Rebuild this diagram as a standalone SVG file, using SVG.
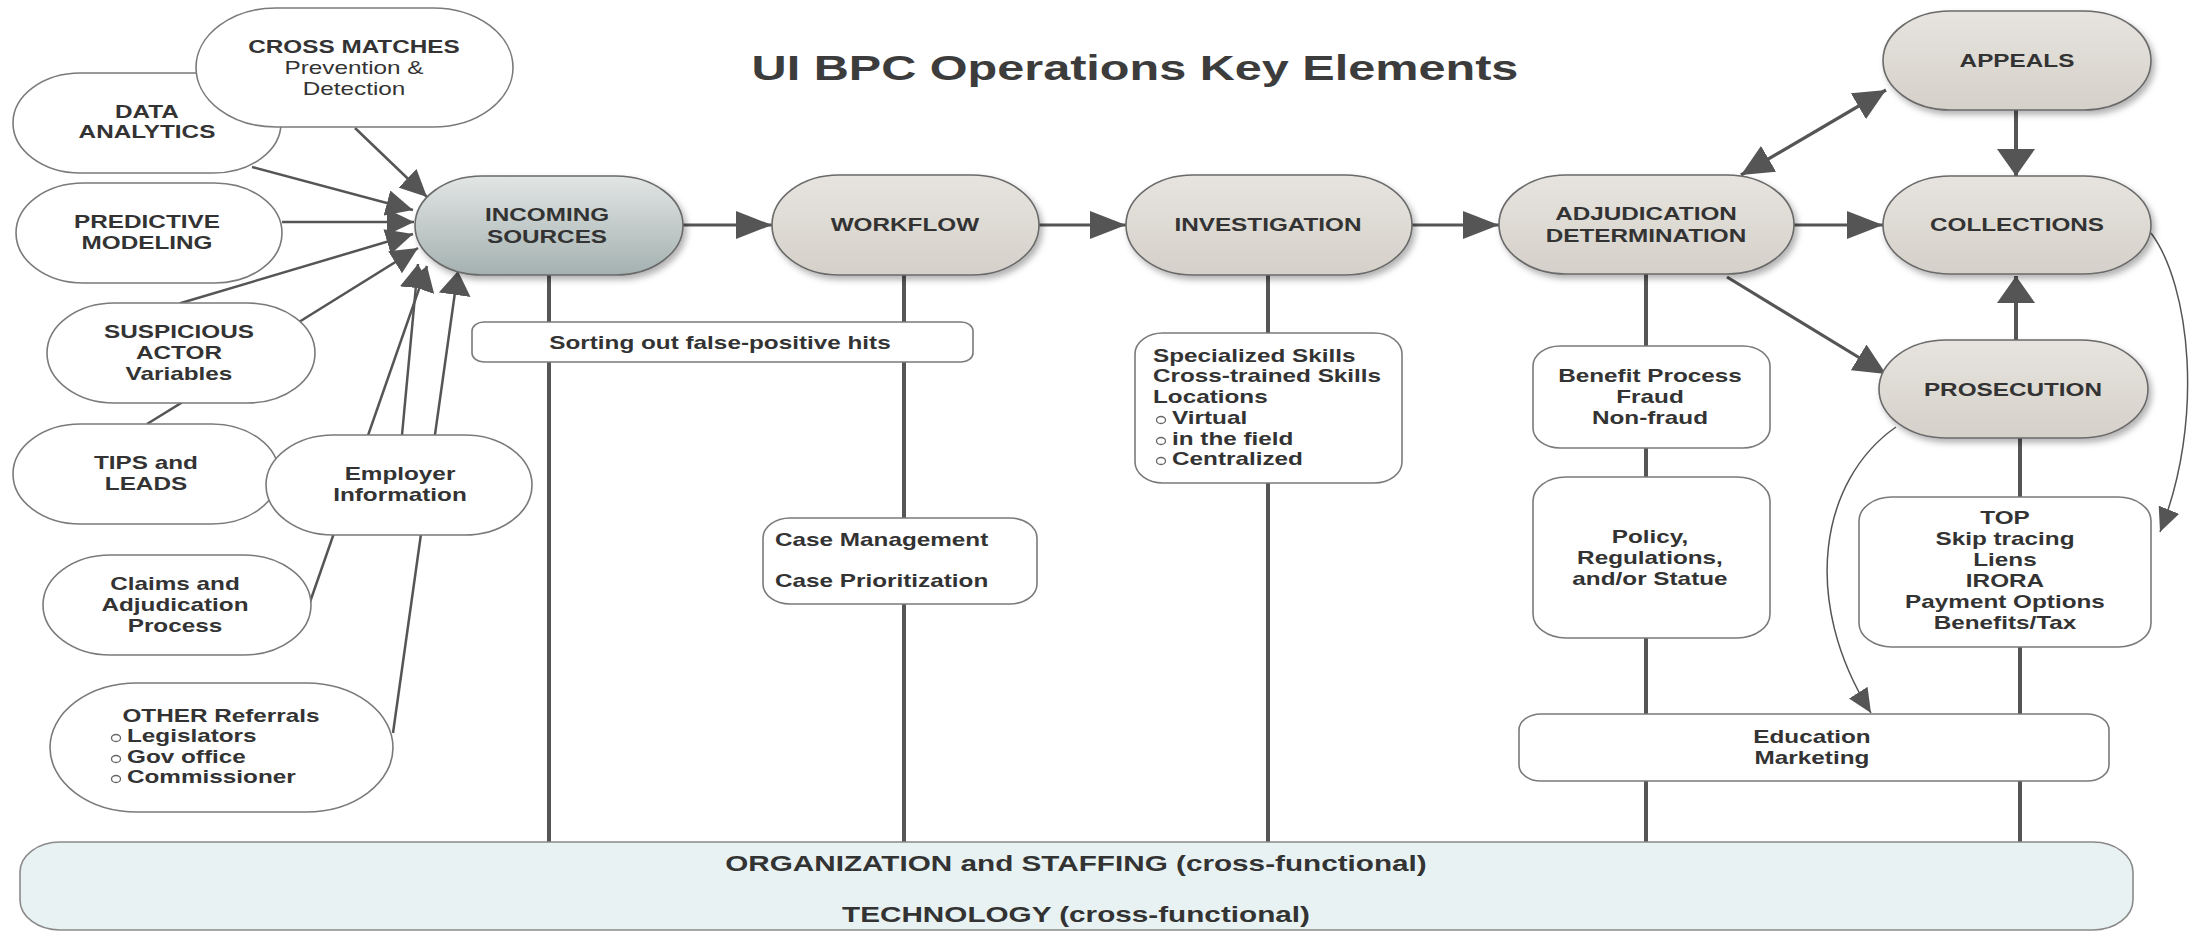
<svg xmlns="http://www.w3.org/2000/svg" width="2196" height="932" viewBox="0 0 2196 932">
<defs>
<style>
text{font-family:"Liberation Sans",Arial,sans-serif;fill:#333;font-size:18px;font-weight:bold;text-anchor:middle;transform-box:fill-box;transform-origin:center;transform:scaleX(1.35)}
text.l{text-anchor:start;transform-origin:0% 50%}
text.r{font-weight:normal}
text.title{font-size:36px;fill:#3c3c3c}
text.band{font-size:22px}
.bub{fill:#fff;stroke:#7a7a7a;stroke-width:1.6}
.box{fill:#fff;stroke:#7a7a7a;stroke-width:1.6}
.main{fill:url(#gMain);stroke:#6a6a6a;stroke-width:1.6;filter:url(#sh)}
.inc{fill:url(#gInc);stroke:#6a6a6a;stroke-width:1.6;filter:url(#sh)}
.bandr{fill:#e8f2f2;stroke:#8a8a8a;stroke-width:1.6}
.ln{fill:none;stroke:#555;stroke-width:3.2}
.vl{stroke-width:4}
.lc{stroke-width:2.5}
.th{stroke-width:1.5}
.bul{fill:none;stroke:#666;stroke-width:1.3}
.ah{fill:#555}
</style>
<linearGradient id="gMain" x1="0" y1="0" x2="0" y2="1"><stop offset="0" stop-color="#e7e4df"/><stop offset="1" stop-color="#d5d0c9"/></linearGradient>
<linearGradient id="gInc" x1="0" y1="0" x2="0" y2="1"><stop offset="0" stop-color="#e2e6e5"/><stop offset="1" stop-color="#a4b1b0"/></linearGradient>
<filter id="sh" x="-10%" y="-10%" width="130%" height="140%"><feDropShadow dx="3" dy="4" stdDeviation="3" flood-color="#000" flood-opacity="0.3"/></filter>
<marker id="mH" markerUnits="userSpaceOnUse" markerWidth="36" markerHeight="28" refX="36" refY="14" orient="auto"><path class="ah" d="M0,0 L36,14 L0,28 Z"/></marker>
<marker id="mV" markerUnits="userSpaceOnUse" markerWidth="27" markerHeight="38" refX="27" refY="19" orient="auto"><path class="ah" d="M0,0 L27,19 L0,38 Z"/></marker>
<marker id="mD" markerUnits="userSpaceOnUse" markerWidth="32" markerHeight="30" refX="32" refY="15" orient="auto-start-reverse"><path class="ah" d="M0,0 L32,15 L0,30 Z"/></marker>
<marker id="mL" markerUnits="userSpaceOnUse" markerWidth="27" markerHeight="26" refX="27" refY="13" orient="auto"><path class="ah" d="M0,0 L27,13 L0,26 Z"/></marker>
<marker id="mU" markerUnits="userSpaceOnUse" markerWidth="24" markerHeight="32" refX="24" refY="16" orient="auto"><path class="ah" d="M0,0 L24,16 L0,32 Z"/></marker>
<marker id="mT" markerUnits="userSpaceOnUse" markerWidth="24" markerHeight="22" refX="24" refY="11" orient="auto"><path class="ah" d="M0,0 L24,11 L0,22 Z"/></marker>
</defs>
<rect x="0" y="0" width="2196" height="932" fill="#fff"/>

<text class="title" x="1135" y="80">UI BPC Operations Key Elements</text>

<g id="connectors">
<path class="ln vl" d="M549,275 V842"/>
<path class="ln vl" d="M904,275 V842"/>
<path class="ln vl" d="M1268,275 V842"/>
<path class="ln vl" d="M1646,274 V842"/>
<path class="ln vl" d="M2020,438 V842"/>
<path class="ln lc" d="M355,128 L427,197" marker-end="url(#mL)"/>
<path class="ln lc" d="M252,167 L413,210" marker-end="url(#mL)"/>
<path class="ln lc" d="M282,222 L414,222" marker-end="url(#mL)"/>
<path class="ln lc" d="M147,424 L181,403 L181,303 L413,234" marker-end="url(#mL)"/>
<path class="ln lc" d="M299,322 L418,248" marker-end="url(#mL)"/>
<path class="ln lc" d="M402,435 L418,264" marker-end="url(#mU)"/>
<path class="ln lc" d="M310,602 L427,266" marker-end="url(#mU)"/>
<path class="ln lc" d="M393,733 L458,271" marker-end="url(#mU)"/>
<path class="ln" d="M683,225 L772,225" marker-end="url(#mH)"/>
<path class="ln" d="M1039,225 L1126,225" marker-end="url(#mH)"/>
<path class="ln" d="M1412,225 L1499,225" marker-end="url(#mH)"/>
<path class="ln" d="M1794,225 L1883,225" marker-end="url(#mH)"/>
<path class="ln vl" d="M2016,110 L2016,176" marker-end="url(#mV)"/>
<path class="ln vl" d="M2016,340 L2016,276" marker-end="url(#mV)"/>
<path class="ln" d="M1741,175 L1886,90" marker-start="url(#mD)" marker-end="url(#mD)"/>
<path class="ln" d="M1727,277 L1886,374" marker-end="url(#mD)"/>
<path class="ln th" d="M1896,427 C1820,480 1800,600 1871,713" marker-end="url(#mT)"/>
<path class="ln th" d="M2151,233 C2190,285 2205,420 2160,532" marker-end="url(#mT)"/>
</g>

<g id="data-analytics"><rect class="bub" x="13" y="73" width="268" height="100" rx="67.5" ry="50"/>
<text x="147" y="118">DATA</text><text x="147" y="138">ANALYTICS</text></g>
<g id="cross-matches"><rect class="bub" x="196" y="8" width="317" height="119" rx="80" ry="59.5"/>
<text x="354" y="53">CROSS MATCHES</text><text class="r" x="354" y="74">Prevention &amp;</text><text class="r" x="354" y="95">Detection</text></g>
<g id="predictive-modeling"><rect class="bub" x="16" y="183" width="266" height="100" rx="67.5" ry="50"/>
<text x="147" y="228">PREDICTIVE</text><text x="147" y="249">MODELING</text></g>
<g id="suspicious-actor"><rect class="bub" x="47" y="303" width="268" height="100" rx="67.5" ry="50"/>
<text x="179" y="338">SUSPICIOUS</text><text x="179" y="359">ACTOR</text><text x="179" y="380">Variables</text></g>
<g id="tips-leads"><rect class="bub" x="13" y="424" width="266" height="100" rx="67.5" ry="50"/>
<text x="146" y="469">TIPS and</text><text x="146" y="490">LEADS</text></g>
<g id="employer-information"><rect class="bub" x="266" y="435" width="266" height="100" rx="67.5" ry="50"/>
<text x="400" y="480">Employer</text><text x="400" y="501">Information</text></g>
<g id="claims-adjudication"><rect class="bub" x="43" y="555" width="268" height="100" rx="67.5" ry="50"/>
<text x="175" y="590">Claims and</text><text x="175" y="611">Adjudication</text><text x="175" y="632">Process</text></g>
<g id="other-referrals"><rect class="bub" x="50" y="683" width="343" height="129" rx="87" ry="64.5"/>
<text x="221" y="722">OTHER Referrals</text>
<ellipse class="bul" cx="116" cy="738" rx="4.5" ry="3.5"/><ellipse class="bul" cx="116" cy="759" rx="4.5" ry="3.5"/><ellipse class="bul" cx="116" cy="779" rx="4.5" ry="3.5"/>
<text class="l" x="127" y="742">Legislators</text><text class="l" x="127" y="763">Gov office</text><text class="l" x="127" y="783">Commissioner</text></g>

<g id="incoming-sources"><rect class="inc" x="415" y="176" width="268" height="99" rx="67" ry="49.5"/>
<text x="547" y="221">INCOMING</text><text x="547" y="243">SOURCES</text></g>
<g id="workflow"><rect class="main" x="772" y="175" width="267" height="100" rx="67" ry="50"/>
<text x="905" y="231">WORKFLOW</text></g>
<g id="investigation"><rect class="main" x="1126" y="175" width="286" height="100" rx="67" ry="50"/>
<text x="1268" y="231">INVESTIGATION</text></g>
<g id="adjudication"><rect class="main" x="1499" y="175" width="295" height="99" rx="67" ry="49.5"/>
<text x="1646" y="220">ADJUDICATION</text><text x="1646" y="242">DETERMINATION</text></g>
<g id="appeals"><rect class="main" x="1883" y="11" width="268" height="99" rx="67" ry="49.5"/>
<text x="2017" y="67">APPEALS</text></g>
<g id="collections"><rect class="main" x="1883" y="176" width="268" height="98" rx="67" ry="49"/>
<text x="2017" y="231">COLLECTIONS</text></g>
<g id="prosecution"><rect class="main" x="1879" y="340" width="269" height="98" rx="67" ry="49"/>
<text x="2013" y="396">PROSECUTION</text></g>

<g id="sorting"><rect class="box" x="472" y="322" width="501" height="40" rx="12" ry="9"/>
<text x="720" y="349">Sorting out false-positive hits</text></g>
<g id="case-management"><rect class="box" x="763" y="518" width="274" height="86" rx="27" ry="20"/>
<text class="l" x="775" y="546">Case Management</text><text class="l" x="775" y="587">Case Prioritization</text></g>
<g id="investigation-skills"><rect class="box" x="1135" y="333" width="267" height="150" rx="28" ry="21"/>
<text class="l" x="1153" y="362">Specialized Skills</text><text class="l" x="1153" y="382">Cross-trained Skills</text><text class="l" x="1153" y="403">Locations</text>
<ellipse class="bul" cx="1161" cy="420" rx="4.5" ry="3.5"/><ellipse class="bul" cx="1161" cy="441" rx="4.5" ry="3.5"/><ellipse class="bul" cx="1161" cy="461" rx="4.5" ry="3.5"/>
<text class="l" x="1172" y="424">Virtual</text><text class="l" x="1172" y="445">in the field</text><text class="l" x="1172" y="465">Centralized</text></g>
<g id="benefit-process"><rect class="box" x="1533" y="346" width="237" height="102" rx="27" ry="20"/>
<text x="1650" y="382">Benefit Process</text><text x="1650" y="403">Fraud</text><text x="1650" y="424">Non-fraud</text></g>
<g id="policy"><rect class="box" x="1533" y="477" width="237" height="161" rx="33" ry="24"/>
<text x="1650" y="543">Policy,</text><text x="1650" y="564">Regulations,</text><text x="1650" y="585">and/or Statue</text></g>
<g id="top-options"><rect class="box" x="1859" y="497" width="292" height="150" rx="33" ry="24"/>
<text x="2005" y="524">TOP</text><text x="2005" y="545">Skip tracing</text><text x="2005" y="566">Liens</text><text x="2005" y="587">IRORA</text><text x="2005" y="608">Payment Options</text><text x="2005" y="629">Benefits/Tax</text></g>
<g id="education"><rect class="box" x="1519" y="714" width="590" height="67" rx="22" ry="16"/>
<text x="1812" y="743">Education</text><text x="1812" y="764">Marketing</text></g>
<g id="organization-band"><rect class="bandr" x="20" y="842" width="2113" height="88" rx="40" ry="30"/>
<text class="band" x="1076" y="871">ORGANIZATION and STAFFING (cross-functional)</text>
<text class="band" x="1076" y="922">TECHNOLOGY (cross-functional)</text></g>
</svg>
